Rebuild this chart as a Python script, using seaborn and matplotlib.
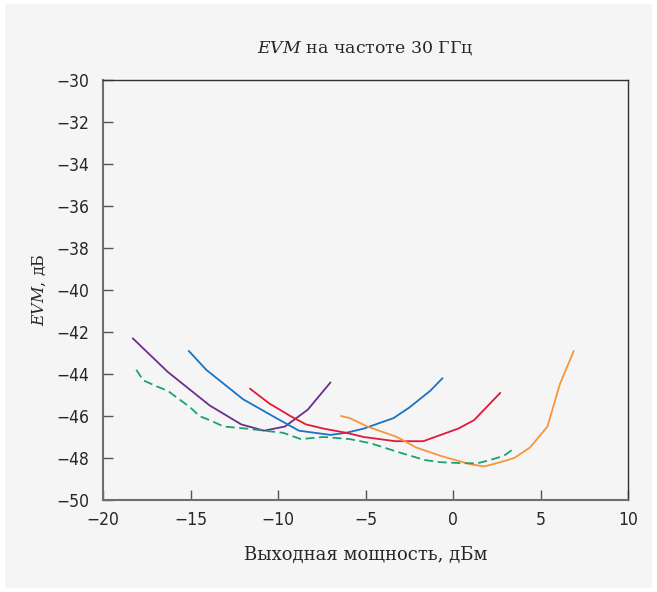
import matplotlib
matplotlib.use("Agg")
import matplotlib.pyplot as plt
import seaborn as sns
import pandas as pd
from matplotlib.patches import Rectangle

# series (x: output power, dBm; y: EVM, dB)
purple_x = [-18.3, -16.3, -13.9, -12.1, -10.8, -9.6, -8.3, -7.0]
purple_y = [-42.3, -43.9, -45.5, -46.4, -46.7, -46.5, -45.7, -44.4]

blue_x = [-15.1, -14.1, -12.0, -10.1, -8.8, -7.0, -6.1, -5.1, -3.4, -2.5, -1.3, -0.6]
blue_y = [-42.9, -43.8, -45.2, -46.1, -46.7, -46.9, -46.8, -46.6, -46.1, -45.6, -44.8, -44.2]

red_x = [-11.6, -10.5, -9.3, -8.4, -7.4, -6.1, -5.1, -4.2, -3.3, -2.5, -1.7, -0.7, 0.3, 1.2, 2.7]
red_y = [-44.7, -45.4, -46.0, -46.4, -46.6, -46.8, -47.0, -47.1, -47.2, -47.2, -47.2, -46.9, -46.6, -46.2, -44.9]

orange_x = [-6.4, -5.9, -4.9, -3.2, -2.1, -0.7, 1.0, 1.8, 2.7, 3.5, 4.4, 5.4, 6.1, 6.9]
orange_y = [-46.0, -46.1, -46.5, -47.0, -47.5, -47.9, -48.3, -48.4, -48.2, -48.0, -47.5, -46.5, -44.5, -42.9]

green_x = [-18.1, -17.7, -16.9, -16.3, -15.0, -14.5, -13.9, -13.1, -11.8, -10.8, -9.7, -8.7,
           -7.4, -5.9, -4.7, -3.2, -2.4, -1.6, -0.7, 0.6, 1.4, 2.1, 2.9, 3.4]
green_y = [-43.8, -44.3, -44.6, -44.8, -45.6, -46.0, -46.2, -46.5, -46.6, -46.7, -46.8, -47.1,
           -47.0, -47.1, -47.3, -47.7, -47.9, -48.1, -48.2, -48.25, -48.25, -48.1, -47.9, -47.6]

x_ticks = [-20, -15, -10, -5, 0, 5, 10]
y_ticks = [-50, -48, -46, -44, -42, -40, -38, -36, -34, -32, -30]

sns.set_style("ticks")
plt.rcParams['font.family'] = ['DejaVu Serif']
plt.rcParams['axes.unicode_minus'] = True
plt.rcParams['mathtext.fontset'] = 'custom'
plt.rcParams['mathtext.it'] = 'DejaVu Serif:italic'
plt.rcParams['mathtext.rm'] = 'DejaVu Serif'

bg = "#f5f5f5"
fig = plt.figure(figsize=(6.57, 5.92), dpi=100, facecolor="white")
fig.patches.append(Rectangle((5 / 657, 4 / 592), 647 / 657, 584 / 592,
                             transform=fig.transFigure, facecolor=bg, edgecolor="none", zorder=-10))
ax = fig.add_axes([103 / 657, 92 / 592, 525 / 657, 420 / 592])
ax.set_facecolor(bg)

series = [
    (purple_x, purple_y, "#6b2d8f", "-"),
    (blue_x, blue_y, "#1a72c2", "-"),
    (red_x, red_y, "#e3173a", "-"),
    (orange_x, orange_y, "#f7953c", "-"),
    (green_x, green_y, "#1aa370", "--"),
]
for xs, ys, color, ls in series:
    df = pd.DataFrame({"x": xs, "y": ys})
    sns.lineplot(data=df, x="x", y="y", color=color, linestyle=ls, linewidth=1.3,
                 sort=False, estimator=None, ax=ax)
ax.lines[-1].set_dashes([5, 2.5])

ax.set_xlim(-20, 10)
ax.set_ylim(-50, -30)
ax.set_xticks(x_ticks)
ax.set_yticks(y_ticks)
ax.tick_params(direction="in", length=7, width=1, color="#555555", labelsize=13, pad=8)
ax.tick_params(axis="y", pad=10)
for lbl in ax.get_xticklabels() + ax.get_yticklabels():
    lbl.set_family(['DejaVu Sans'])
    lbl.set_stretch('condensed')
    lbl.set_fontsize(12.5)
for side in ["left", "bottom"]:
    ax.spines[side].set_color("#6e6e6e")
    ax.spines[side].set_linewidth(1.5)
for side in ["top", "right"]:
    ax.spines[side].set_color("#333333")
    ax.spines[side].set_linewidth(1.0)

ax.set_xlabel("Выходная мощность, дБм", fontsize=13, labelpad=12)
ax.set_ylabel("$\\it{EVM}$, дБ", fontsize=11.5, labelpad=6)
ax.set_title("$\\it{EVM}$ на частоте 30 ГГц", fontsize=12.5, pad=20)

fig.savefig("out.png", dpi=100, facecolor="white")
